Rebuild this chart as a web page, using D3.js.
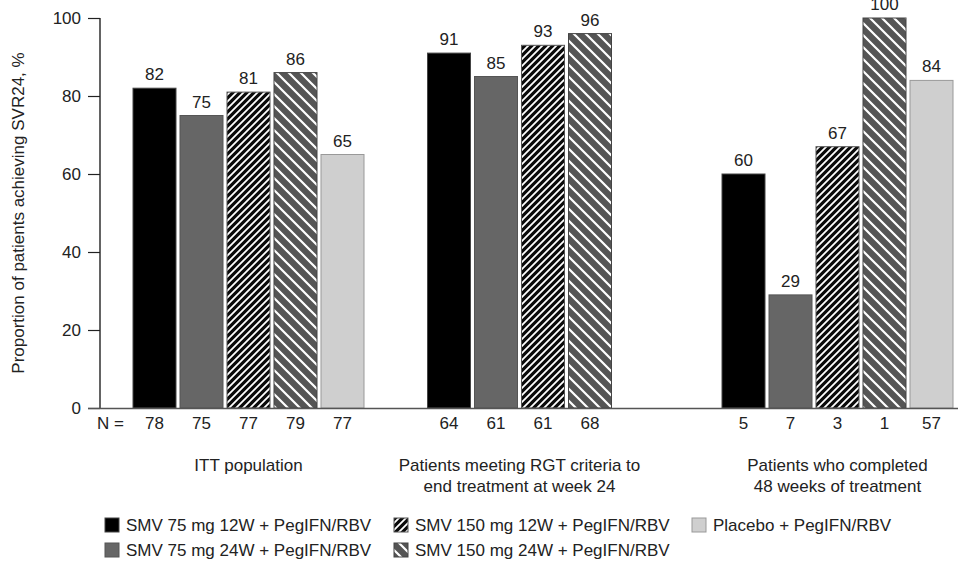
<!DOCTYPE html>
<html><head><meta charset="utf-8">
<script src="https://cdn.jsdelivr.net/npm/d3@7"></script>
<style>body{margin:0;background:#fff}svg{display:block}text{font-family:"Liberation Sans",Arial,sans-serif;fill:#222}</style>
</head><body><svg id="c" width="973" height="565"></svg>
<script>
const groups = ["ITT population", "Patients meeting RGT criteria to\nend treatment at week 24", "Patients who completed\n48 weeks of treatment"];
const series = ["SMV 75 mg 12W + PegIFN/RBV", "SMV 75 mg 24W + PegIFN/RBV", "SMV 150 mg 12W + PegIFN/RBV", "SMV 150 mg 24W + PegIFN/RBV", "Placebo + PegIFN/RBV"];
// values per group, per series (null = not shown)
const valuesITT = [82, 75, 81, 86, 65];
const valuesRGT = [91, 85, 93, 96, null];
const values48W = [60, 29, 67, 100, 84];
const nITT = [78, 75, 77, 79, 77];
const nRGT = [64, 61, 61, 68, null];
const n48W = [5, 7, 3, 1, 57];
const yTicks = [0, 20, 40, 60, 80, 100];

const values = [valuesITT, valuesRGT, values48W];
const ns = [nITT, nRGT, n48W];
const FS = "17px";

const svg = d3.select("#c");
const defs = svg.append("defs");
function hatch(id, bg, size, dir, sw) {
  const p = defs.append("pattern").attr("id", id).attr("patternUnits", "userSpaceOnUse")
    .attr("width", size).attr("height", size);
  p.append("rect").attr("width", size).attr("height", size).attr("fill", bg);
  const d = dir > 0
    ? `M0,${size} L${size},0 M${-size/2},${size/2} L${size/2},${-size/2} M${size/2},${size*1.5} L${size*1.5},${size/2}`
    : `M0,0 L${size},${size} M${-size/2},${size/2} L${size/2},${size*1.5} M${size/2},${-size/2} L${size*1.5},${size/2}`;
  p.append("path").attr("d", d).attr("stroke", "#fff").attr("stroke-width", sw);
}
hatch("h12", "#0a0a0a", 7, 1, 1.8);
hatch("h24", "#555", 12, -1, 2.2);

const fills = ["#000", "#666", "url(#h12)", "url(#h24)", "#cfcfcf"];
const strokes = ["#444", "#555", "#555", "#444", "#999"];

const y = d3.scaleLinear().domain([0, 100]).range([408, 18]);
const gx = d3.scaleBand().domain(d3.range(groups.length)).range([133, 133 + 3 * 294.5]).padding(0);
const inner = d3.scaleBand().domain(d3.range(series.length)).range([0, 231]).paddingInner(4 / 47).paddingOuter(0);

function barX(g, s) {
  return gx(g) + inner(s);
}

// y axis
const yAxis = d3.axisLeft(y).tickValues(yTicks).tickSize(12).tickPadding(7);
const ya = svg.append("g").attr("transform", "translate(100,0)").call(yAxis);
ya.select(".domain").attr("stroke", "#222").attr("stroke-width", 1.4).attr("d", "M0,18V408");
ya.selectAll(".tick line").attr("stroke", "#222").attr("stroke-width", 1.2);
ya.selectAll(".tick text").style("font-size", FS).attr("fill", "#222");

// bars
values.forEach((vals, g) => {
  vals.forEach((v, s) => {
    if (v == null) return;
    const x0 = barX(g, s), w = inner.bandwidth();
    svg.append("rect").attr("x", x0).attr("y", y(v)).attr("width", w).attr("height", y(0) - y(v))
      .attr("fill", fills[s]).attr("stroke", strokes[s]).attr("stroke-width", 1);
    svg.append("text").attr("x", x0 + w / 2).attr("y", y(v) - 8).attr("text-anchor", "middle")
      .style("font-size", FS).text(v);
    svg.append("text").attr("x", x0 + w / 2).attr("y", 429).attr("text-anchor", "middle")
      .style("font-size", FS).text(ns[g][s]);
  });
});

// x axis line
svg.append("line").attr("x1", 88).attr("x2", 958).attr("y1", 408.5).attr("y2", 408.5)
  .attr("stroke", "#555").attr("stroke-width", 1.5);
svg.append("text").attr("x", 97).attr("y", 429).attr("text-anchor", "start").style("font-size", FS).text("N =");

// group labels
groups.forEach((gname, g) => {
  const lines = gname.split("\n");
  const cnt = values[g].filter(v => v != null).length;
  const cx = barX(g, 0) + (barX(g, cnt - 1) + inner.bandwidth() - barX(g, 0)) / 2;
  const t = svg.append("text").attr("text-anchor", "middle").style("font-size", FS);
  lines.forEach((l, i) => {
    t.append("tspan").attr("x", cx).attr("y", 471 + i * 21).text(l);
  });
});

// y label
svg.append("text").attr("transform", "translate(24,213) rotate(-90)").attr("text-anchor", "middle")
  .style("font-size", FS).text("Proportion of patients achieving SVR24, %");

// legend
const legendPos = [[105, 525], [105, 550], [394, 525], [394, 550], [692, 525]];
series.forEach((sName, s) => {
  const [lx, ly] = legendPos[s];
  svg.append("rect").attr("x", lx).attr("y", ly - 7).attr("width", 14).attr("height", 14)
    .attr("fill", fills[s]).attr("stroke", strokes[s]).attr("stroke-width", 1);
  svg.append("text").attr("x", lx + 21).attr("y", ly + 6).style("font-size", FS).text(sName);
});
</script></body></html>
